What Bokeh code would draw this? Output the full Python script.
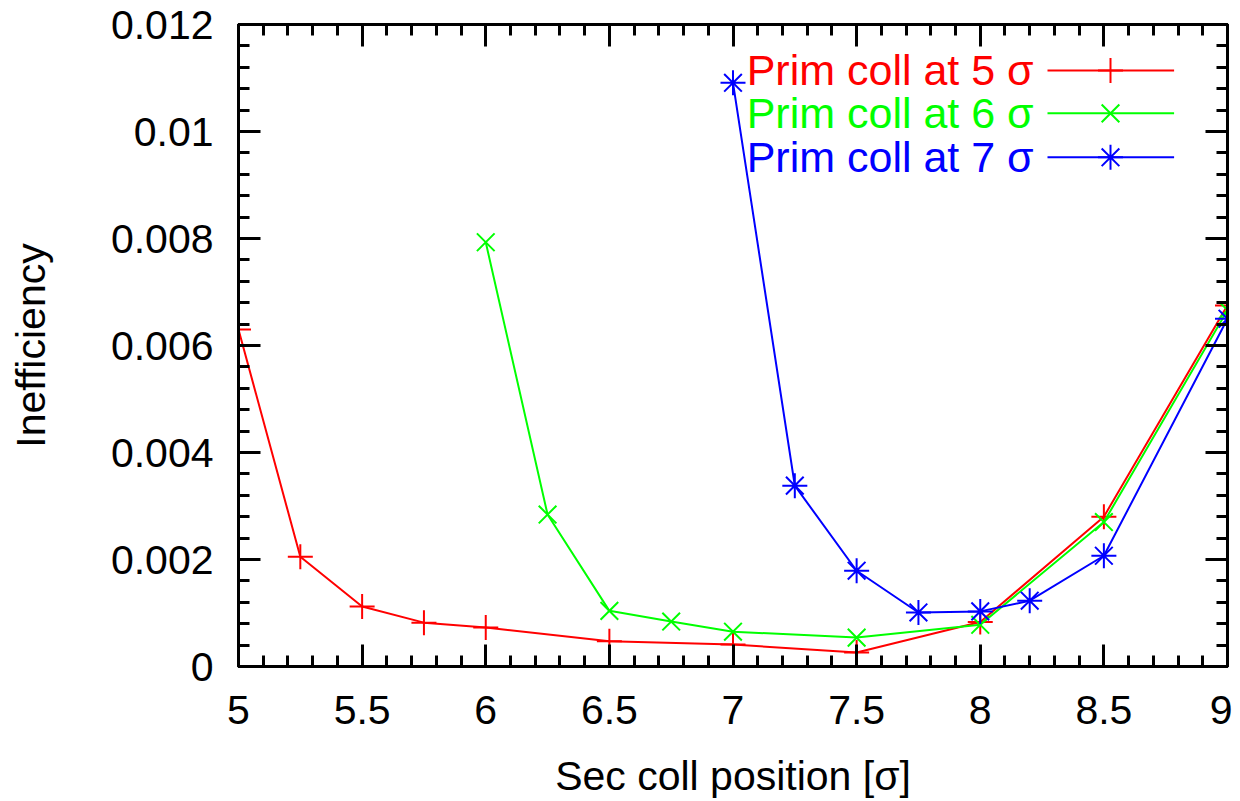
import numpy as np
from bokeh.plotting import figure
from bokeh.models import (Range1d, LinearAxis, FixedTicker, NumeralTickFormatter,
                          Label)
from bokeh.embed import file_html
from bokeh.resources import INLINE

# ---- data ----
x5 = [5.0, 5.25, 5.5, 5.75, 6.0, 6.5, 7.0, 7.5, 8.0, 8.5, 9.0]
y5 = [0.0063, 0.00205, 0.00112, 0.00082, 0.00073, 0.00047, 0.00041, 0.00026, 0.00083, 0.0028, 0.00675]
x6 = [6.0, 6.25, 6.5, 6.75, 7.0, 7.5, 8.0, 8.5, 9.0]
y6 = [0.00793, 0.00284, 0.00104, 0.00084, 0.00065, 0.00054, 0.00078, 0.0027, 0.00666]
x7 = [7.0, 7.25, 7.5, 7.75, 8.0, 8.2, 8.5, 9.0]
y7 = [0.01091, 0.00338, 0.00179, 0.00101, 0.00103, 0.00123, 0.00207, 0.0065]

series = [
    ("Prim coll at 5 σ", x5, y5, "#ff0000", "cross"),
    ("Prim coll at 6 σ", x6, y6, "#00ff00", "x"),
    ("Prim coll at 7 σ", x7, y7, "#0000ff", "asterisk"),
]

x_ticks = [5, 5.5, 6, 6.5, 7, 7.5, 8, 8.5, 9]
y_ticks = [0, 0.002, 0.004, 0.006, 0.008, 0.01, 0.012]

FONT = "Liberation Sans"

p = figure(width=1232, height=801, output_backend="svg", toolbar_location=None,
           x_range=Range1d(5, 9), y_range=Range1d(0, 0.012),
           x_axis_label="Sec coll position [σ]", y_axis_label="Inefficiency")
p.min_border_left = 238
p.min_border_right = 5
p.min_border_top = 24
p.min_border_bottom = 128
p.grid.visible = False
p.outline_line_color = "black"
p.outline_line_width = 3
p.background_fill_color = "white"
p.border_fill_color = "white"

xminor = list(np.round(np.arange(5, 9.0001, 0.1), 4))
yminor = list(np.round(np.arange(0, 0.01201, 0.0004), 6))
xt = FixedTicker(ticks=x_ticks, minor_ticks=xminor)
yt = FixedTicker(ticks=y_ticks, minor_ticks=yminor)


def style_axis(ax, ticker, fmt, show_labels):
    ax.ticker = ticker
    ax.formatter = NumeralTickFormatter(format=fmt)
    ax.axis_line_width = 3
    ax.major_tick_line_width = 3
    ax.minor_tick_line_width = 3
    ax.major_tick_in = 22
    ax.major_tick_out = 0
    ax.minor_tick_in = 11
    ax.minor_tick_out = 0
    ax.major_label_text_font = FONT
    ax.major_label_text_font_size = "41px"
    ax.major_label_text_color = "black"
    ax.axis_label_text_font = FONT
    ax.axis_label_text_font_size = "41px"
    ax.axis_label_text_font_style = "normal"
    ax.axis_label_text_color = "black"
    if not show_labels:
        ax.major_label_text_font_size = "0px"
        ax.major_label_text_alpha = 0


style_axis(p.xaxis[0], xt, "0.[0]", True)
style_axis(p.yaxis[0], yt, "0.[000]", True)
p.xaxis[0].major_label_standoff = 29
p.xaxis[0].axis_label_standoff = 26
p.yaxis[0].major_label_standoff = 25
p.yaxis[0].axis_label_standoff = 54

top = LinearAxis()
style_axis(top, xt, "0.[0]", False)
right = LinearAxis()
style_axis(right, yt, "0.[000]", False)
p.add_layout(top, "above")
p.add_layout(right, "right")

for name, xs, ys, col, mk in series:
    p.line(xs, ys, line_color=col, line_width=2)
    p.scatter(xs, ys, marker=mk, size=25, line_color=col, line_width=2, fill_color=None)

# legend (text left, sample right), placed in frame-fraction coordinates
p.extra_x_ranges = {"leg": Range1d(0, 1)}
p.extra_y_ranges = {"leg": Range1d(0, 1)}
rows = [0.9285, 0.8616, 0.7932]
for (name, xs, ys, col, mk), ry in zip(series, rows):
    p.add_layout(Label(x=0.804, y=ry, x_range_name="leg", y_range_name="leg",
                       text=name, text_color=col, text_font=FONT,
                       text_font_size="43px", text_align="right",
                       text_baseline="middle"))
    p.line([0.818, 0.946], [ry, ry], x_range_name="leg", y_range_name="leg",
           line_color=col, line_width=2)
    p.scatter([0.8817], [ry], x_range_name="leg", y_range_name="leg",
              marker=mk, size=25, line_color=col, line_width=2, fill_color=None)

open("out.html", "w").write(file_html(p, INLINE))
